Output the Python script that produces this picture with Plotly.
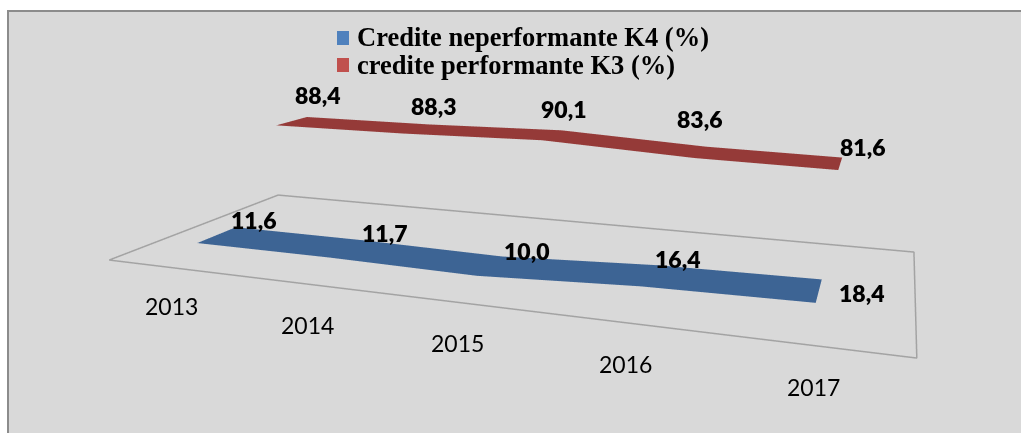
import plotly.graph_objects as go

WIDTH, HEIGHT = 1021, 433

YEARS = ["2013", "2014", "2015", "2016", "2017"]
NPL_K4 = [11.6, 11.7, 10.0, 16.4, 18.4]
PERF_K3 = [88.4, 88.3, 90.1, 83.6, 81.6]
NPL_LABELS = ["11,6", "11,7", "10,0", "16,4", "18,4"]
PERF_LABELS = ["88,4", "88,3", "90,1", "83,6", "81,6"]
NPL_NAME = "Credite neperformante K4 (%)"
PERF_NAME = "credite performante K3 (%)"

# category slots on the x axis, and the slanted depth of the drawing
POSITIONS = [0.5, 1.5, 2.5, 3.5, 4.5]
SLOTS = 5
SKEW = 0.5076
NPL_DEPTH = (0.15, 0.365)
PERF_DEPTH = (0.73, 0.935)
NPL_END = 4.45
PERF_END = 4.36

# label offsets from the data point, in pixels
NPL_SHIFT = [(37, 15), (38, 16), (37, 15), (29, 16), (34, -1)]
PERF_SHIFT = [(26, 26), (18, 23), (12, 26), (-1, 33), (-1, 18)]
YEAR_DROP = [38, 41, 41, 41, 41]

BLUE_LEG, RED_LEG = "#4f81bd", "#c0504d"
BLUE, RED = "#3d6494", "#953a38"


def ribbon(values, depth, end, color):
    pos = POSITIONS[:-1] + [end]
    n = len(values)
    xs, ys, zs = [], [], []
    for d in depth:
        xs += [p + SKEW * d for p in pos]
        ys += [d] * n
        zs += list(values)
    i, j, k = [], [], []
    for a in range(n - 1):
        i += [a, a + 1]
        j += [a + 1, n + a + 1]
        k += [n + a, n + a]
    return go.Mesh3d(
        x=xs, y=ys, z=zs, i=i, j=j, k=k, color=color, flatshading=True,
        lighting=dict(ambient=1, diffuse=0, specular=0, roughness=1, fresnel=0),
        hoverinfo="skip", showlegend=False,
    )


def legend_item(name, legend_id):
    # the entry's text is the plotly legend; its swatch is drawn as a shape below
    return go.Scatter3d(
        x=[None], y=[None], z=[None], mode="markers", name=name, legend=legend_id,
        marker=dict(symbol="square", size=1, color="rgba(0,0,0,0)"), hoverinfo="skip",
    )


def labels(values, texts, depth, shifts):
    mid = sum(depth) / 2
    return [
        dict(x=p + SKEW * mid, y=mid, z=v, text=t, showarrow=False,
             xshift=sx, yshift=sy, xanchor="center", yanchor="middle",
             font=dict(family="Lato", size=23, color="#000000", weight=800))
        for p, v, t, (sx, sy) in zip(POSITIONS, values, texts, shifts)
    ]


def px_x(v):
    return v / WIDTH


def px_y(v):
    return 1 - v / HEIGHT


def legend_box(top):
    return dict(x=px_x(317), y=px_y(top), xanchor="left", yanchor="top",
                bgcolor="rgba(0,0,0,0)", itemwidth=30,
                font=dict(family="Liberation Serif", size=26.5, color="#000000", weight="bold"))


def swatch(top, color):
    return dict(type="rect", xref="paper", yref="paper", layer="above",
                x0=px_x(337), x1=px_x(349), y0=px_y(top + 14), y1=px_y(top),
                fillcolor=color, line=dict(width=0))


floor = go.Scatter3d(
    x=[0, SLOTS, SLOTS + SKEW, SKEW, 0], y=[0, 0, 1, 1, 0], z=[0, 0, 0, 0, 0],
    mode="lines", line=dict(color="#a3a3a3", width=3),
    hoverinfo="skip", showlegend=False,
)

fig = go.Figure([
    floor,
    ribbon(NPL_K4, NPL_DEPTH, NPL_END, BLUE),
    ribbon(PERF_K3, PERF_DEPTH, PERF_END, RED),
    legend_item(NPL_NAME, "legend"),
    legend_item(PERF_NAME, "legend2"),
])

year_notes = [
    dict(x=p, y=0, z=0, text=y, showarrow=False, yshift=-drop,
         xanchor="center", yanchor="middle",
         font=dict(family="Lato", size=23, color="#000000"))
    for p, y, drop in zip(POSITIONS, YEARS, YEAR_DROP)
]

hidden = dict(visible=False, showspikes=False)
fig.update_layout(
    width=WIDTH, height=HEIGHT,
    margin=dict(l=0, r=0, t=0, b=0),
    paper_bgcolor="#ffffff",
    shapes=[
        dict(type="rect", xref="paper", yref="paper", layer="below",
             x0=px_x(8), x1=1.02, y0=-0.02, y1=px_y(11),
             fillcolor="#d9d9d9", line=dict(color="#8c8c8c", width=2)),
        swatch(31, BLUE_LEG),
        swatch(58, RED_LEG),
    ],
    legend=legend_box(12),
    legend2=legend_box(40),
    scene=dict(
        domain=dict(x=[0, 1], y=[0, 1]),
        xaxis=dict(range=[0, 5.6], **hidden),
        yaxis=dict(range=[0, 1], **hidden),
        zaxis=dict(range=[0, 100], **hidden),
        aspectmode="manual",
        aspectratio=dict(x=1, y=0.2163, z=0.1511),
        camera=dict(
            eye=dict(x=0.0941, y=-0.5526, z=0.2625),
            center=dict(x=-0.0145, y=-0.0094, z=-0.0162),
            up=dict(x=0, y=0, z=1),
            projection=dict(type="perspective"),
        ),
        annotations=year_notes
        + labels(NPL_K4, NPL_LABELS, NPL_DEPTH, NPL_SHIFT)
        + labels(PERF_K3, PERF_LABELS, PERF_DEPTH, PERF_SHIFT),
    ),
)

fig.write_html("out.html", config=dict(displayModeBar=False),
               post_script="document.body.style.margin='0';")
